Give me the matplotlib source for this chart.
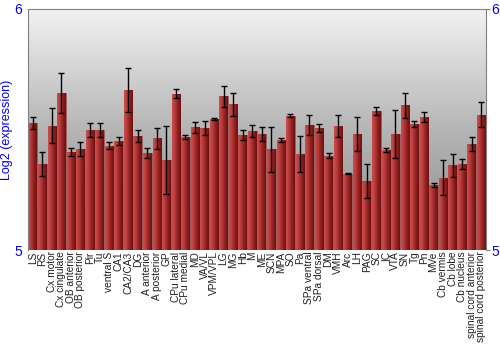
import matplotlib
matplotlib.use("Agg")
import matplotlib.pyplot as plt
import numpy as np
from matplotlib.colors import LinearSegmentedColormap

plt.rcParams['font.family'] = ['Liberation Sans', 'DejaVu Sans']

regions = ["LS", "RS", "Cx motor", "Cx cingulate", "OB anterior", "OB posterior", "Pir", "Tu",
           "ventral S", "CA1", "CA2/CA3", "DG", "A anterior", "A posterior", "GP", "CPu lateral",
           "CPu medial", "MD", "VA/VL", "VPM/VPL", "LG", "MG", "Hb", "M", "ME", "SCN", "MPA", "SO",
           "Pa", "SPa ventral", "SPa dorsal", "DM", "VMH", "Arc", "LH", "PAG", "SC", "IC", "VTA",
           "SN", "Tg", "Pn", "MVe", "Cb vermis", "Cb lobe", "Cb nucleus", "spinal cord anterior",
           "spinal cord posterior"]
expression = [5.526, 5.358, 5.516, 5.650, 5.407, 5.418, 5.497, 5.498, 5.433, 5.452, 5.663, 5.473,
              5.402, 5.463, 5.373, 5.649, 5.470, 5.510, 5.508, 5.544, 5.638, 5.604, 5.476, 5.494,
              5.480, 5.418, 5.455, 5.557, 5.400, 5.519, 5.505, 5.391, 5.516, 5.317, 5.480, 5.286,
              5.578, 5.415, 5.480, 5.600, 5.523, 5.552, 5.270, 5.300, 5.351, 5.357, 5.440, 5.562]
errors = [0.025, 0.050, 0.072, 0.083, 0.015, 0.029, 0.028, 0.030, 0.015, 0.018, 0.091, 0.023,
          0.020, 0.045, 0.142, 0.019, 0.008, 0.023, 0.029, 0.004, 0.043, 0.046, 0.020, 0.024,
          0.029, 0.094, 0.008, 0.006, 0.075, 0.043, 0.017, 0.010, 0.046, 0.002, 0.070, 0.070,
          0.016, 0.010, 0.100, 0.052, 0.012, 0.019, 0.010, 0.072, 0.048, 0.019, 0.028, 0.051]

fig = plt.figure(figsize=(5, 3.5), dpi=100)
ax = fig.add_axes([28 / 500, 1 - 250 / 350, 458 / 500, 241 / 350])

x = np.arange(len(regions))
ax.set_xlim(-0.5, len(regions) - 0.5)
ax.set_ylim(5, 6)

# background gradient
bg = LinearSegmentedColormap.from_list("bg", ["#8a8a8a", "#b5b5b5", "#f2f2f2"])
ax.imshow(np.linspace(0, 1, 256).reshape(-1, 1), cmap=bg, aspect='auto',
          extent=[-0.5, len(regions) - 0.5, 5, 6], origin='lower', zorder=0)

bars = ax.bar(x, np.array(expression) - 5, bottom=5, width=0.9, color='#a83030',
              edgecolor='#9a5a5a', linewidth=0.5, zorder=2)

# red shading across each bar
red = LinearSegmentedColormap.from_list("red", ["#c9504f", "#b83a3a", "#8e2020", "#6e1010"])
grad = np.linspace(0, 1, 64).reshape(1, -1)
for b in bars:
    x0 = b.get_x()
    w = b.get_width()
    im = ax.imshow(grad, cmap=red, aspect='auto', zorder=2.5,
                   extent=[x0, x0 + w, 5, 5 + b.get_height()], interpolation='bilinear')
    im.set_clip_path(b)

ax.errorbar(x, expression, yerr=errors, fmt='none', ecolor='black', elinewidth=1,
            capsize=2, capthick=1, zorder=3)

ax.set_yticks([5, 6])
ax.tick_params(axis='y', colors='#808080', labelcolor='blue', labelsize=10, length=3,
               right=True, labelright=True, left=False, pad=1)
ax.set_xticks(x)
ax.set_xticklabels(regions, rotation=90, fontsize=7.3, color='#202020')
ax.tick_params(axis='x', length=0, pad=1)
ax.set_ylabel("Log2 (expression)", color='blue', fontsize=9, labelpad=1)

for side in ['left', 'right', 'top']:
    ax.spines[side].set_color('#808080')
ax.spines['bottom'].set_visible(False)

fig.savefig("out.png", dpi=100)
